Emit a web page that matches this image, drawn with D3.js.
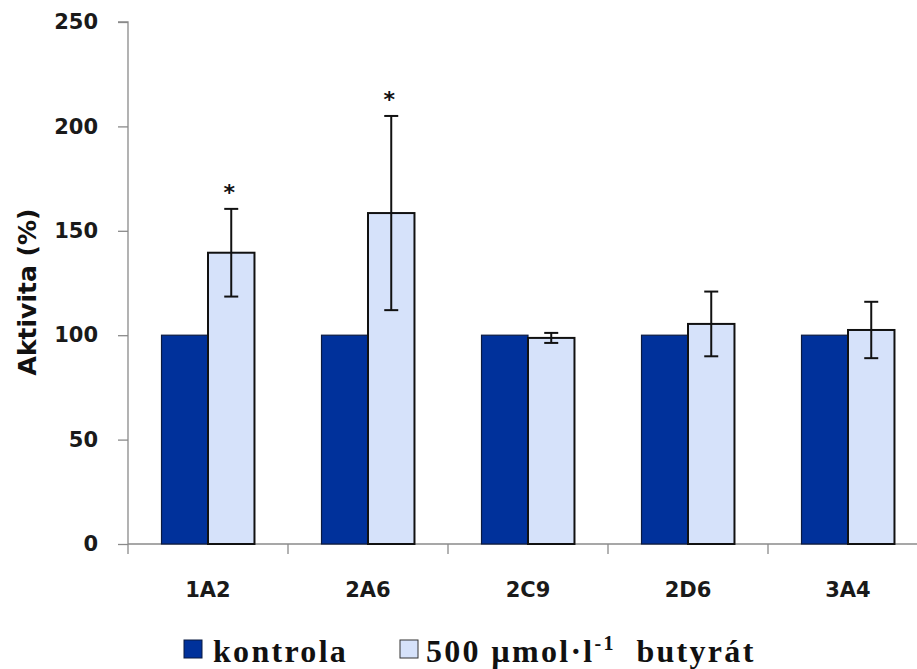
<!DOCTYPE html>
<html>
<head>
<meta charset="utf-8">
<script src="https://cdn.jsdelivr.net/npm/d3@7"></script>
<style>
  html, body { margin: 0; padding: 0; background: #fff; }
  svg { display: block; }
</style>
</head>
<body>
<svg id="chart" width="917" height="669"></svg>
<script>
const categories = ["1A2", "2A6", "2C9", "2D6", "3A4"];
const kontrola = [100, 100, 100, 100, 100];
const butyrat = [139.5, 158.5, 98.7, 105.4, 102.5];
const butyratErr = [21, 46.5, 2.4, 15.5, 13.5];
const significant = [true, true, false, false, false];
const yTicks = [0, 50, 100, 150, 200, 250];
const seriesNames = ["kontrola", "butyrat"];

(function () {
const svg = d3.select("#chart");
const pLeft = 128, pRight = 928, pTop = 22, pBottom = 544;

const y = d3.scaleLinear().domain([0, 250]).range([pBottom, pTop]);
const x0 = d3.scaleBand().domain(categories).range([pLeft, pRight]).paddingInner(0.419).paddingOuter(0.2095);
const x1 = d3.scaleBand().domain(seriesNames).range([0, x0.bandwidth()]);

const axisColor = "#8a8a8a";
const tickFont = "'DejaVu Sans', 'Open Sans', sans-serif";

// Y axis
const yAxis = d3.axisLeft(y).tickValues(yTicks).tickSize(10).tickPadding(20).tickFormat(d3.format("d"));
const gy = svg.append("g").attr("transform", `translate(${pLeft},0)`).call(yAxis);
gy.select(".domain").attr("stroke", axisColor).attr("stroke-width", 1.3)
  .attr("d", `M-10,${pTop}H0V${pBottom}`);
gy.selectAll(".tick line").attr("stroke", axisColor).attr("stroke-width", 1.3);
gy.selectAll(".tick text").attr("font-family", tickFont).attr("font-weight", "bold")
  .attr("font-size", 21).attr("fill", "#1a1a1a");

// X axis (boundary ticks)
const bounds = d3.range(categories.length + 1).map(i => pLeft + i * x0.step());
const gx = svg.append("g");
gx.append("line").attr("x1", pLeft).attr("x2", pRight).attr("y1", pBottom).attr("y2", pBottom)
  .attr("stroke", axisColor).attr("stroke-width", 1.3);
gx.selectAll("line.bt").data(bounds).join("line").attr("class", "bt")
  .attr("x1", d => d).attr("x2", d => d).attr("y1", pBottom).attr("y2", pBottom + 10)
  .attr("stroke", axisColor).attr("stroke-width", 1.3);
gx.selectAll("text.cat").data(categories).join("text").attr("class", "cat")
  .attr("x", d => x0(d) + x0.bandwidth() / 2).attr("y", 597)
  .attr("text-anchor", "middle").attr("font-family", tickFont).attr("font-weight", "bold")
  .attr("font-size", 21).attr("fill", "#1a1a1a").text(d => d);

// Bars
const colors = { kontrola: "#00319b", butyrat: "#d6e2fa" };
const groups = svg.append("g").selectAll("g").data(categories).join("g")
  .attr("transform", d => `translate(${x0(d)},0)`);

groups.append("rect")
  .attr("x", x1("kontrola")).attr("width", x1.bandwidth())
  .attr("y", (d, i) => y(kontrola[i])).attr("height", (d, i) => y(0) - y(kontrola[i]))
  .attr("fill", colors.kontrola).attr("stroke", "#0a1a40").attr("stroke-width", 1.2);

groups.append("rect")
  .attr("x", x1("butyrat")).attr("width", x1.bandwidth())
  .attr("y", (d, i) => y(butyrat[i])).attr("height", (d, i) => y(0) - y(butyrat[i]))
  .attr("fill", colors.butyrat).attr("stroke", "#111").attr("stroke-width", 2);

// Error bars
const cx = x1("butyrat") + x1.bandwidth() / 2;
const capW = 7;
groups.append("line").attr("x1", cx).attr("x2", cx)
  .attr("y1", (d, i) => y(butyrat[i] + butyratErr[i])).attr("y2", (d, i) => y(butyrat[i] - butyratErr[i]))
  .attr("stroke", "#111").attr("stroke-width", 2);
groups.append("line").attr("x1", cx - capW).attr("x2", cx + capW)
  .attr("y1", (d, i) => y(butyrat[i] + butyratErr[i])).attr("y2", (d, i) => y(butyrat[i] + butyratErr[i]))
  .attr("stroke", "#111").attr("stroke-width", 2);
groups.append("line").attr("x1", cx - capW).attr("x2", cx + capW)
  .attr("y1", (d, i) => y(butyrat[i] - butyratErr[i])).attr("y2", (d, i) => y(butyrat[i] - butyratErr[i]))
  .attr("stroke", "#111").attr("stroke-width", 2);

// Significance asterisks
groups.filter((d, i) => significant[i]).append("text")
  .attr("x", cx - 2).attr("y", d => { const i = categories.indexOf(d); return y(butyrat[i] + butyratErr[i]) - 9; })
  .attr("text-anchor", "middle").attr("font-family", tickFont).attr("font-weight", "bold")
  .attr("font-size", 22).attr("fill", "#111").text("*");

// Y title
svg.append("text").attr("transform", "translate(36,292) rotate(-90)")
  .attr("text-anchor", "middle").attr("font-family", tickFont).attr("font-weight", "bold")
  .attr("font-size", 25).attr("fill", "#111").text("Aktivita (%)");

// Legend
const legFont = "'Liberation Serif', 'Times New Roman', serif";
const leg = svg.append("g");
leg.append("rect").attr("x", 184).attr("y", 640).attr("width", 18).attr("height", 18)
  .attr("fill", colors.kontrola).attr("stroke", "#0a1a40").attr("stroke-width", 1);
leg.append("text").attr("x", 213).attr("y", 662).attr("font-family", legFont).attr("font-weight", "bold")
  .attr("font-size", 32).attr("letter-spacing", 2.3).attr("fill", "#111").text("kontrola");
leg.append("rect").attr("x", 400).attr("y", 640).attr("width", 18).attr("height", 18)
  .attr("fill", colors.butyrat).attr("stroke", "#333").attr("stroke-width", 1);
const t2 = leg.append("text").attr("x", 426).attr("y", 662).attr("font-family", legFont).attr("font-weight", "bold")
  .attr("font-size", 32).attr("letter-spacing", 2.3).attr("fill", "#111");
t2.append("tspan").text("500 µmol·l");
t2.append("tspan").attr("dy", -12).attr("font-size", 20).text("-1");
t2.append("tspan").attr("dy", 12).text("\u00a0\u00a0butyrát");
})();
</script>
</body>
</html>
